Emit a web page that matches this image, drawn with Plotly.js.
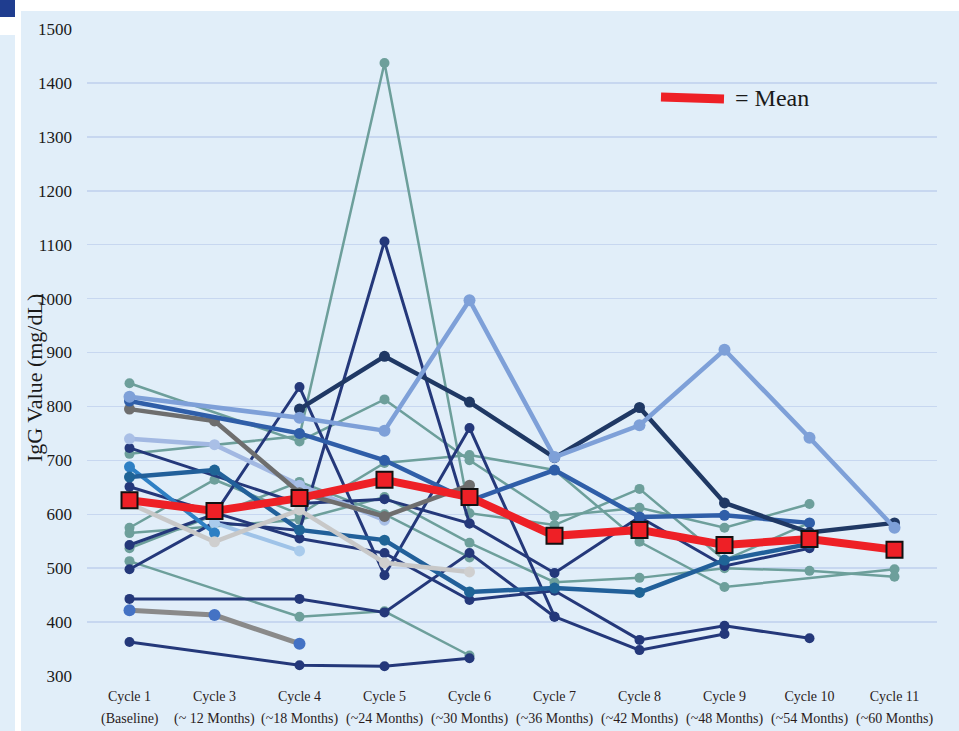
<!DOCTYPE html>
<html><head><meta charset="utf-8">
<script src="https://cdn.plot.ly/plotly-3.0.1.min.js"></script>
<style>html,body{margin:0;padding:0;background:#fff}</style>
</head><body>
<div id="chart" style="width:959px;height:731px"></div>
<script>
const cycles = ['Cycle 1','Cycle 3','Cycle 4','Cycle 5','Cycle 6','Cycle 7','Cycle 8','Cycle 9','Cycle 10','Cycle 11'];
const subLabels = ['(Baseline)','(~ 12 Months)','(~18 Months)','(~24 Months)','(~30 Months)','(~36 Months)','(~42 Months)','(~48 Months)','(~54 Months)','(~60 Months)'];
const meanValues = [626, 606, 630, 664, 632, 560, 571, 543, 554, 534];

// individual patients (null = no measurement at that cycle)
const teal1 = [843, null, 735, 813, 700, 597, 612, 575, 619, null];
const teal2 = [712, null, 745, 1437, 602, 580, 647, 515, 584, null];
const teal3 = [575, 664, 600, 695, 710, 682, 549, 465, null, 498];
const teal4 = [565, null, 590, 632, 547, 474, 482, 500, 495, 484];
const teal5 = [537, null, 660, 600, 520, null, null, null, null, null];
const teal6 = [513, null, 410, 420, 338, null, null, null, null, null];
const navy1 = [723, null, 620, 628, 583, 491, 595, 504, 537, null];
const navy2 = [651, null, 555, 528, 441, 458, 367, 393, 370, null];
const navy3 = [543, 600, 836, 487, 760, 410, 348, 378, null, null];
const navy4 = [498, 585, 570, 1106, 583, null, null, null, null, null];
const navy5 = [443, null, 443, 418, 528, 410, null, null, null, null];
const navy6 = [363, null, 320, 318, 333, null, null, null, null, null];
const navyThick = [null, null, 795, 893, 808, 705, 798, 621, 566, 584];
const periwinkle = [818, null, 779, 755, 997, 706, 765, 905, 742, 575];
const mediumBlue = [810, null, 750, 700, 625, 682, 595, 598, 584, null];
const grayDark = [795, 773, 640, 596, 654, null, null, null, null, null];
const grayLight = [620, 549, 608, 510, 493, null, null, null, null, null];
const grayBlue = [422, 413, 360, null, null, null, null, null, null, null];
const paleBlue = [740, 729, 654, 589, null, null, null, null, null, null];
const skyBlue = [null, 584, 532, null, null, null, null, null, null, null];
const steelBlue = [688, 565, null, null, null, null, null, null, null, null];
const steelDark = [669, 682, 571, 552, 456, 463, 455, 515, 545, null];

const TEAL = '#6d9f9b', NAVY = '#24387a';
const series = [
  [teal1, TEAL, TEAL, 2.5, 10], [teal2, TEAL, TEAL, 2.5, 10], [teal3, TEAL, TEAL, 2.5, 10],
  [teal4, TEAL, TEAL, 2.5, 10], [teal5, TEAL, TEAL, 2.5, 10], [teal6, TEAL, TEAL, 2.5, 10],
  [navy1, NAVY, NAVY, 3, 10], [navy2, NAVY, NAVY, 3, 10], [navy3, NAVY, NAVY, 3, 10],
  [navy4, NAVY, NAVY, 3, 10], [navy5, NAVY, NAVY, 3, 10], [navy6, NAVY, NAVY, 3, 10],
  [grayBlue, '#8a8a8a', '#4472c4', 5, 12],
  [skyBlue, '#9fc3e8', '#a9cbec', 4, 11],
  [steelBlue, '#2e80c4', '#2e80c4', 4, 11],
  [steelDark, '#22609a', '#1f6496', 4.5, 11],
  [grayLight, '#c8c8c8', '#cfcfcf', 4.5, 11],
  [paleBlue, '#a2b8e2', '#a9bfe6', 4.5, 11],
  [grayDark, '#6e6e6e', '#6e6e6e', 4.5, 11],
  [mediumBlue, '#2f5ea8', '#2f5ea8', 4.5, 11],
  [navyThick, '#1f3864', '#1f3864', 4.5, 11],
  [periwinkle, '#7ea0d8', '#7ea0d8', 4.5, 12]
];

const traces = series.map(s => ({
  type: 'scatter', mode: 'lines+markers', x: cycles, y: s[0], connectgaps: true,
  line: {color: s[1], width: s[3]}, marker: {color: s[2], size: s[4]},
  showlegend: false, hoverinfo: 'y'
}));
traces.push({
  type: 'scatter', mode: 'lines+markers', x: cycles, y: meanValues, name: 'Mean',
  line: {color: '#ee2026', width: 8},
  marker: {symbol: 'square', size: 16, color: '#ee2026', line: {color: '#111', width: 2}},
  showlegend: false
});

// plot area: left 87, right 937, top 29, bottom 676
const px = v => (v - 87) / 850, py = v => (676 - v) / 647;
const BG = '#e1eef9';
const SERIF = 'Liberation Serif, Times New Roman, serif';
const annotations = subLabels.map((t, i) => ({
  x: cycles[i], xref: 'x', y: py(719), yref: 'paper', text: t, showarrow: false,
  xanchor: 'center', yanchor: 'middle', font: {family: SERIF, size: 14, color: '#2a1c1c'}
}));
annotations.push({
  x: px(34), y: py(378), xref: 'paper', yref: 'paper', text: 'IgG Value (mg/dL)', textangle: -90,
  xanchor: 'center', yanchor: 'middle',
  showarrow: false, font: {family: SERIF, size: 22, color: '#1a1a1a'}
});
annotations.push({
  x: px(733), y: py(98), xref: 'paper', yref: 'paper', text: '= Mean', xanchor: 'left', yanchor: 'middle',
  showarrow: false, font: {family: SERIF, size: 24, color: '#1a1a1a'}
});

const shapes = [
  {type: 'rect', xref: 'paper', yref: 'paper', x0: px(21), x1: px(960), y0: py(732), y1: py(11), fillcolor: BG, line: {width: 0}, layer: 'below'},
  {type: 'rect', xref: 'paper', yref: 'paper', x0: px(-1), x1: px(15), y0: py(732), y1: py(35), fillcolor: BG, line: {width: 0}, layer: 'below'},
  {type: 'rect', xref: 'paper', yref: 'paper', x0: px(-1), x1: px(15), y0: py(17), y1: py(-1), fillcolor: '#1f3d8f', line: {width: 0}, layer: 'below'},
  {type: 'line', xref: 'paper', yref: 'paper', x0: px(661), x1: px(724), y0: py(97), y1: py(99), line: {color: '#ee2026', width: 9}}
];

const layout = {
  width: 959, height: 731,
  margin: {l: 87, r: 22, t: 29, b: 55},
  paper_bgcolor: '#ffffff', plot_bgcolor: BG,
  showlegend: false,
  xaxis: {
    type: 'category', categoryorder: 'array', categoryarray: cycles,
    range: [-0.5, 9.5], showgrid: false, zeroline: false, showline: false, ticks: '',
    ticklabelstandoff: 10,
    tickfont: {family: SERIF, size: 14, color: '#2a1c1c'}
  },
  yaxis: {
    range: [300, 1500], dtick: 100, tick0: 300, showgrid: true, gridcolor: '#c7d7f0', gridwidth: 1.5,
    zeroline: false, showline: false, ticks: '', ticklabelstandoff: 14,
    tickfont: {family: SERIF, size: 17, color: '#1a1a1a'}
  },
  annotations: annotations, shapes: shapes
};

Plotly.newPlot('chart', traces, layout, {displayModeBar: false, staticPlot: true});
</script>
</body></html>
